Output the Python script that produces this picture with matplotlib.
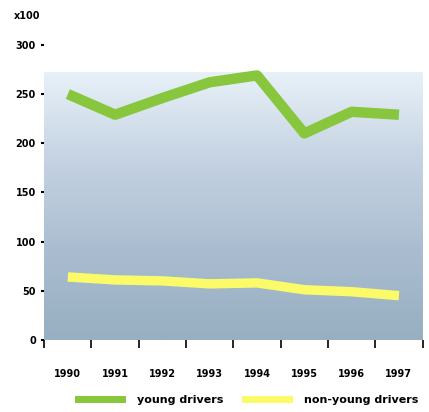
import numpy as np
import matplotlib.pyplot as plt
from matplotlib.colors import LinearSegmentedColormap
from matplotlib.patches import Patch

years = ['1990', '1991', '1992', '1993', '1994', '1995', '1996', '1997']
young = [250, 229, 246, 262, 269, 210, 232, 229]
non_young = [64, 61, 60, 57, 58, 51, 49, 45]
series_names = ['young drivers', 'non-young drivers']
y_ticks = [0, 50, 100, 150, 200, 250, 300]

green = '#88c63e'
yellow = '#fbfb6a'

fig = plt.figure(figsize=(4.29, 4.12), dpi=100)
ax = fig.add_axes([0.103, 0.175, 0.882, 0.716])

x = np.arange(len(years))
ax.set_xlim(-0.5, len(years) - 0.5)
ax.set_ylim(0, 300)

# shaded backdrop behind the lines, fading from light to blue-grey
bg_cmap = LinearSegmentedColormap.from_list('bg', ['#97afc0', '#aabdd0', '#c4d2e2', '#e8f1f8'])
grad = np.linspace(0, 1, 256).reshape(-1, 1)
ax.imshow(grad, aspect='auto', cmap=bg_cmap, origin='lower',
          extent=(-0.5, len(years) - 0.5, 0, 272), zorder=0)

ax.plot(x, young, color=green, linewidth=7.5, solid_capstyle='butt', zorder=3)
ax.plot(x, non_young, color=yellow, linewidth=6.8, solid_capstyle='butt', zorder=3)

for side in ['top', 'right', 'left', 'bottom']:
    ax.spines[side].set_visible(False)

ax.set_yticks(y_ticks)
ax.set_yticklabels([str(v) for v in y_ticks], fontsize=7, fontweight='bold')
ax.tick_params(axis='y', length=2, width=1.5, pad=4)

ax.set_xticks(x)
ax.set_xticklabels(years, fontsize=7, fontweight='bold')
ax.set_xticks(np.arange(-0.5, len(years)), minor=True)
ax.tick_params(axis='x', which='major', length=0, pad=21)
ax.tick_params(axis='x', which='minor', length=6, width=1.2)

fig.text(0.033, 0.96, 'x100', fontsize=7, fontweight='bold', va='center')

handles = [Patch(facecolor=green, edgecolor='none'),
           Patch(facecolor=yellow, edgecolor='none')]
fig.legend(handles, series_names, loc='lower center', bbox_to_anchor=(0.575, -0.008),
           ncol=2, frameon=False, prop={'size': 8, 'weight': 'bold'},
           handlelength=4.6, handleheight=0.6, columnspacing=1.6, handletextpad=1.0)

fig.savefig('out.png', dpi=100)
